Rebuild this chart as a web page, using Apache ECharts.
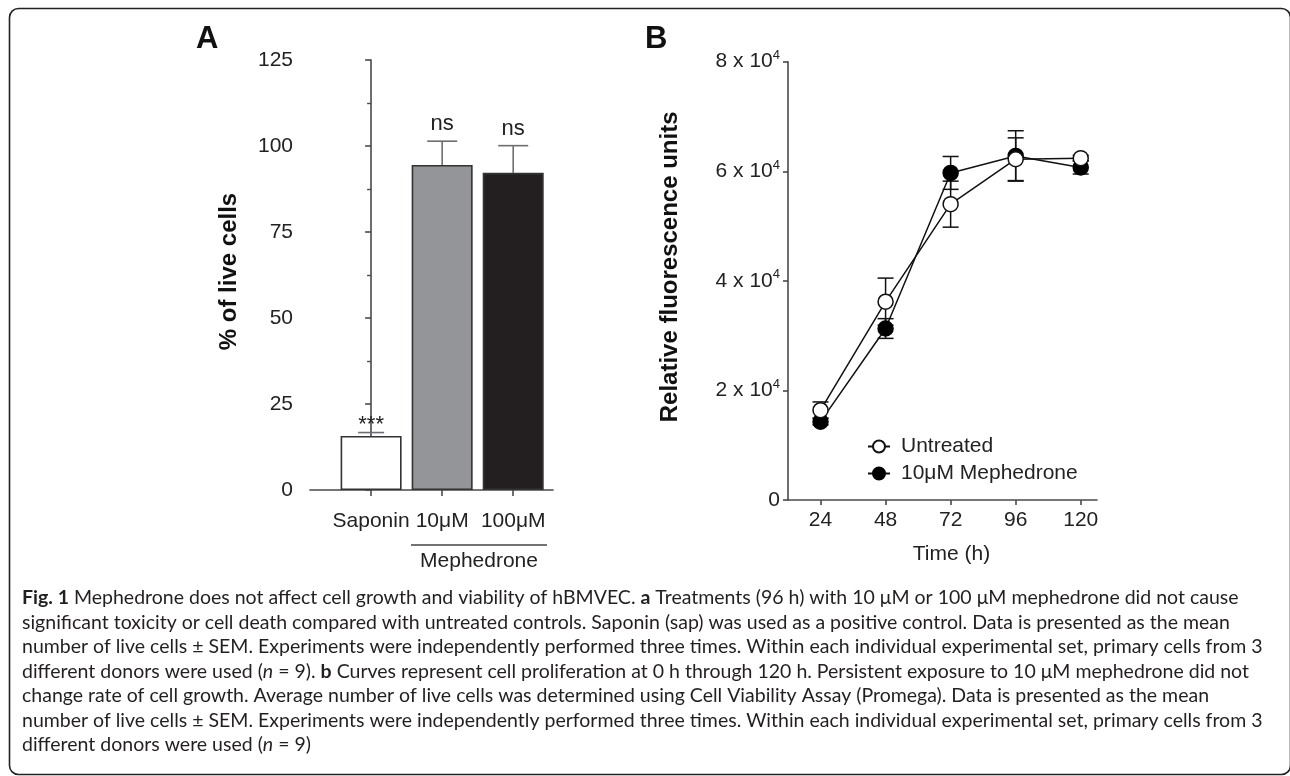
<!DOCTYPE html>
<html><head><meta charset="utf-8">
<script src="https://cdn.jsdelivr.net/npm/echarts@6/dist/echarts.min.js"></script>
<style>html,body{margin:0;padding:0;background:#fff}#c{width:1290px;height:776px}</style>
</head><body><div id="c"></div>
<script>
// ---- Panel A data ----
const barCategories = ['Saponin', '10μM', '100μM'];
const barValues = [15.7, 94.5, 92.2];
const barErrors = [1.0, 6.9, 7.9];
const barMarks = ['***', 'ns', 'ns'];
const barColors = ['#ffffff', '#939598', '#231f20'];
const barTickValues = [0, 1, 2];

// ---- Panel B data ----
const timePoints = [24, 48, 72, 96, 120];
const untreated = [16400, 36200, 54000, 62200, 62400];
const untreatedSem = [1500, 4300, 4200, 3900, 500];
const mephedrone = [14300, 31300, 59700, 62800, 60700];
const mephedroneSem = [600, 1800, 3000, 4600, 1200];
const seriesNames = ['Untreated', '10μM Mephedrone'];

const captionLines = [
  '{b|Fig. 1} Mephedrone does not affect cell growth and viability of hBMVEC. {b|a} Treatments (96 h) with 10 μM or 100 μM mephedrone did not cause',
  'significant toxicity or cell death compared with untreated controls. Saponin (sap) was used as a positive control. Data is presented as the mean',
  'number of live cells ± SEM. Experiments were independently performed three times. Within each individual experimental set, primary cells from 3',
  'different donors were used ({i|n} = 9). {b|b} Curves represent cell proliferation at 0 h through 120 h. Persistent exposure to 10 μM mephedrone did not',
  'change rate of cell growth. Average number of live cells was determined using Cell Viability Assay (Promega). Data is presented as the mean',
  'number of live cells ± SEM. Experiments were independently performed three times. Within each individual experimental set, primary cells from 3',
  'different donors were used ({i|n} = 9)'
];

const FONT = 'Liberation Sans, Arial, sans-serif';
const CAP = 'Lato, sans-serif';
const CAPSIZE = 19.5;
const axisColor = '#4a4a4a';

const chart = echarts.init(document.getElementById('c'), null, {renderer: 'canvas'});

const barData = barValues.map((v, i) => ({
  value: [barTickValues[i], v],
  itemStyle: {color: barColors[i]}
}));
const barErrData = barValues.map((v, i) => [barTickValues[i], v, barErrors[i]]);

function renderBarErr(params, api) {
  const i = params.dataIndex;
  const x = api.value(0), v = api.value(1), e = api.value(2);
  const base = api.coord([x, v]);
  const top = api.coord([x, v + e]);
  const hw = i === 0 ? 13 : 15;
  const mark = barMarks[i];
  const lift = mark === 'ns' ? 6 : -3;
  return {type: 'group', children: [
    {type: 'line', shape: {x1: base[0], y1: base[1], x2: top[0], y2: top[1]}, style: {stroke: '#6d6e71', lineWidth: 1.6}},
    {type: 'line', shape: {x1: top[0] - hw, y1: top[1], x2: top[0] + hw, y2: top[1]}, style: {stroke: '#6d6e71', lineWidth: 1.6}},
    {type: 'text', x: top[0], y: top[1] - lift, style: {text: mark, fontSize: 22, fontFamily: FONT, fill: '#222', align: 'center', verticalAlign: 'bottom'}}
  ]};
}

function renderLineErr(params, api) {
  const x = api.value(0), v = api.value(1), e = api.value(2);
  const lo = api.coord([x, v - e]);
  const hi = api.coord([x, v + e]);
  const hw = 8;
  const st = {stroke: '#111', lineWidth: 1.5};
  return {type: 'group', children: [
    {type: 'line', shape: {x1: lo[0], y1: lo[1], x2: hi[0], y2: hi[1]}, style: st},
    {type: 'line', shape: {x1: hi[0] - hw, y1: hi[1], x2: hi[0] + hw, y2: hi[1]}, style: st},
    {type: 'line', shape: {x1: lo[0] - hw, y1: lo[1], x2: lo[0] + hw, y2: lo[1]}, style: st}
  ]};
}

const captionGraphics = captionLines.map((t, i) => ({
  type: 'text', left: 22, top: 588 + i * 24.5,
  style: {
    text: t, fontFamily: CAP, fontSize: CAPSIZE, fill: '#231f20',
    rich: {
      b: {fontFamily: CAP, fontSize: CAPSIZE, fontWeight: 'bold', fill: '#231f20'},
      i: {fontFamily: CAP, fontSize: CAPSIZE, fontStyle: 'italic', fill: '#231f20'}
    }
  }
}));

const option = {
  animation: false,
  backgroundColor: '#ffffff',
  grid: [
    {left: 310, top: 60, width: 243, height: 430},
    {left: 788, top: 61.7, width: 309, height: 438.3}
  ],
  xAxis: [
    {
      gridIndex: 0, type: 'value', min: -0.86, max: 2.56, offset: 12,
      axisLine: {lineStyle: {color: axisColor, width: 1.6}},
      axisTick: {customValues: barTickValues, length: 6, lineStyle: {color: axisColor, width: 1.6}},
      axisLabel: {customValues: barTickValues, formatter: v => barCategories[Math.round(v)], fontSize: 21, fontFamily: FONT, color: '#222', margin: 9},
      splitLine: {show: false}
    },
    {
      gridIndex: 1, type: 'value', min: 12, max: 126,
      name: 'Time (h)', nameLocation: 'middle', nameGap: 44,
      nameTextStyle: {fontSize: 21, fontFamily: FONT, color: '#222', padding: [0, 0, 0, 18]},
      axisLine: {lineStyle: {color: axisColor, width: 1.6}},
      axisTick: {customValues: timePoints, length: 5, lineStyle: {color: axisColor, width: 1.6}},
      axisLabel: {customValues: timePoints, fontSize: 21, fontFamily: FONT, color: '#222', margin: 10},
      splitLine: {show: false}
    }
  ],
  yAxis: [
    {
      gridIndex: 0, type: 'value', min: 0, max: 125, interval: 25, offset: 5,
      name: '% of live cells', nameLocation: 'middle', nameGap: 64,
      nameTextStyle: {fontSize: 24, fontWeight: 'bold', fontFamily: FONT, color: '#111', padding: [0, 0, 0, 7]},
      axisLine: {show: true, lineStyle: {color: axisColor, width: 1.6}},
      axisTick: {show: true, length: 6, lineStyle: {color: axisColor, width: 1.6}},
      minorTick: {show: true, splitNumber: 2, length: 4, lineStyle: {color: axisColor, width: 1.4}},
      axisLabel: {fontSize: 21, fontFamily: FONT, color: '#222', margin: 12},
      splitLine: {show: false}
    },
    {
      gridIndex: 1, type: 'value', min: 0, max: 80000, interval: 20000,
      name: 'Relative fluorescence units', nameLocation: 'middle', nameGap: 106,
      nameTextStyle: {fontSize: 24, fontWeight: 'bold', fontFamily: FONT, color: '#111', padding: [0, 0, 0, 28]},
      axisLine: {show: true, lineStyle: {color: axisColor, width: 1.6}},
      axisTick: {show: true, length: 5, lineStyle: {color: axisColor, width: 1.6}},
      axisLabel: {
        fontSize: 21, fontFamily: FONT, color: '#222', margin: 8,
        formatter: v => v === 0 ? '{a|0}' : '{a|' + (v / 10000) + ' x 10}{s|4}',
        rich: {
          a: {fontSize: 21, fontFamily: FONT, color: '#222'},
          s: {fontSize: 13, fontFamily: FONT, color: '#222', padding: [0, 0, 12, 0]}
        }
      },
      splitLine: {show: false}
    }
  ],
  legend: {
    data: seriesNames, orient: 'vertical', left: 862, top: 431,
    itemWidth: 22, itemHeight: 15, itemGap: 6,
    textStyle: {fontSize: 21, fontFamily: FONT, color: '#222', padding: [0, 0, 0, 6]}
  },
  series: [
    {
      type: 'bar', xAxisIndex: 0, yAxisIndex: 0, barWidth: 61,
      data: barData,
      itemStyle: {borderColor: '#333', borderWidth: 1.6},
      z: 2
    },
    {
      type: 'custom', xAxisIndex: 0, yAxisIndex: 0,
      data: barErrData, renderItem: renderBarErr, z: 1
    },
    {
      type: 'custom', xAxisIndex: 1, yAxisIndex: 1, z: 1,
      data: timePoints.map((t, i) => [t, mephedrone[i], mephedroneSem[i]]),
      renderItem: renderLineErr
    },
    {
      type: 'custom', xAxisIndex: 1, yAxisIndex: 1, z: 1,
      data: timePoints.map((t, i) => [t, untreated[i], untreatedSem[i]]),
      renderItem: renderLineErr
    },
    {
      name: seriesNames[1], type: 'line', xAxisIndex: 1, yAxisIndex: 1, z: 3,
      data: timePoints.map((t, i) => [t, mephedrone[i]]),
      symbol: 'circle', symbolSize: 15,
      lineStyle: {color: '#111', width: 1.5},
      itemStyle: {color: '#000', borderColor: '#000', borderWidth: 1.5}
    },
    {
      name: seriesNames[0], type: 'line', xAxisIndex: 1, yAxisIndex: 1, z: 4,
      data: timePoints.map((t, i) => [t, untreated[i]]),
      symbol: 'circle', symbolSize: 15,
      lineStyle: {color: '#111', width: 1.5},
      itemStyle: {color: '#fff', borderColor: '#111', borderWidth: 1.5}
    }
  ],
  graphic: [
    {type: 'rect', shape: {x: 9.5, y: 8.5, width: 1281, height: 766, r: 9}, style: {fill: 'none', stroke: '#222', lineWidth: 1.6}, z: 100},
    {type: 'text', left: 196, top: 24, style: {text: 'A', fontSize: 31, fontWeight: 'bold', fontFamily: FONT, fill: '#111'}},
    {type: 'text', left: 645, top: 24, style: {text: 'B', fontSize: 31, fontWeight: 'bold', fontFamily: FONT, fill: '#111'}},
    {type: 'line', shape: {x1: 411, y1: 545, x2: 547, y2: 545}, style: {stroke: '#444', lineWidth: 1.6}},
    {type: 'text', x: 479, y: 561, style: {text: 'Mephedrone', fontSize: 21, fontFamily: FONT, fill: '#222', align: 'center', verticalAlign: 'middle'}}
  ].concat(captionGraphics)
};
chart.setOption(option);
</script>
</body></html>
